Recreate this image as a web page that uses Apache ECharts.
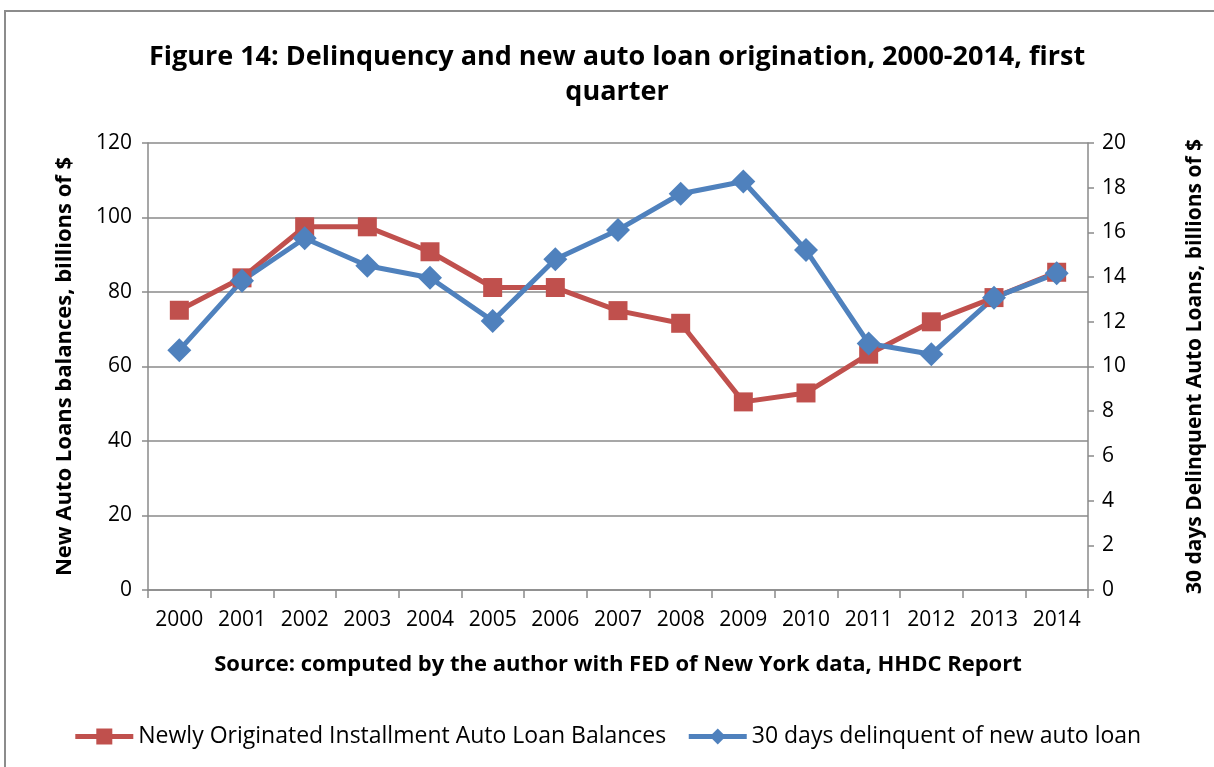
<!DOCTYPE html>
<html><head><meta charset="utf-8">
<script src="https://cdn.jsdelivr.net/npm/echarts@6/dist/echarts.min.js"></script>
<style>
html,body{margin:0;padding:0;background:#fff;}
#frame{position:absolute;left:4px;top:10px;width:1230px;height:800px;border:2px solid #8c8c8c;box-sizing:border-box;}
#c{position:absolute;left:0;top:0;width:1214px;height:767px;}
</style></head>
<body>
<div id="frame"></div>
<div id="c"></div>
<script>
const years = ['2000','2001','2002','2003','2004','2005','2006','2007','2008','2009','2010','2011','2012','2013','2014'];
const newLoans = [75.1, 83.8, 97.5, 97.5, 90.8, 81.2, 81.2, 75.0, 71.6, 50.5, 52.9, 63.3, 72.0, 78.5, 85.3];
const delinquent = [10.73, 13.84, 15.74, 14.51, 13.97, 12.04, 14.80, 16.11, 17.73, 18.28, 15.21, 11.03, 10.55, 13.08, 14.17];
const leftTicks = {min:0, max:120, interval:20};
const rightTicks = {min:0, max:20, interval:2};

const font = '"Open Sans", sans-serif';
const chart = echarts.init(document.getElementById('c'), null, {renderer:'canvas'});
const gray = '#8a8a8a';
chart.setOption({
  animation:false,
  title:{
    text:'Figure 14: Delinquency and new auto loan origination, 2000-2014, first\nquarter',
    left:612, top:35, textAlign:'center',
    textStyle:{fontFamily:font, fontWeight:'bold', fontSize:27, color:'#000', lineHeight:35}
  },
  legend:{
    bottom:14, left:'center', itemWidth:58, itemHeight:20, itemGap:20,
    textStyle:{fontFamily:font, fontSize:23, color:'#000'},
    lineStyle:{width:5},
    data:['Newly Originated Installment Auto Loan Balances','30 days delinquent of new auto loan']
  },
  grid:{left:148, right:122, top:143, bottom:177},
  xAxis:{
    type:'category', data:years, boundaryGap:true,
    name:'Source: computed by the author with FED of New York data, HHDC Report',
    nameLocation:'middle', nameGap:64,
    nameTextStyle:{fontFamily:font, fontWeight:'bold', fontSize:22, color:'#000'},
    axisLine:{lineStyle:{color:gray, width:1.5}},
    axisTick:{show:true, length:8, inside:false, lineStyle:{color:gray, width:1.5}},
    axisLabel:{fontFamily:font, fontSize:21, color:'#000', margin:20}
  },
  yAxis:[{
    type:'value', min:leftTicks.min, max:leftTicks.max, interval:leftTicks.interval, position:'left',
    name:'New Auto Loans balances, billions of $', nameLocation:'middle', nameGap:72, nameRotate:90,
    nameTextStyle:{fontFamily:font, fontWeight:'bold', fontSize:22, color:'#000'},
    axisLine:{show:true, lineStyle:{color:gray, width:1.5}},
    axisTick:{show:true, length:6, lineStyle:{color:gray, width:1.5}},
    axisLabel:{fontFamily:font, fontSize:21, color:'#000', margin:16},
    splitLine:{show:true, lineStyle:{color:gray, width:1.5}}
  },{
    type:'value', min:rightTicks.min, max:rightTicks.max, interval:rightTicks.interval, position:'right',
    name:'30 days Delinquent Auto Loans, billions of $', nameLocation:'middle', nameGap:97, nameRotate:90,
    nameTextStyle:{fontFamily:font, fontWeight:'bold', fontSize:21, color:'#000'},
    axisLine:{show:true, lineStyle:{color:gray, width:1.5}},
    axisTick:{show:true, length:6, lineStyle:{color:gray, width:1.5}},
    axisLabel:{fontFamily:font, fontSize:21, color:'#000', margin:14},
    splitLine:{show:false}
  }],
  series:[{
    name:'Newly Originated Installment Auto Loan Balances', type:'line', yAxisIndex:0, data:newLoans,
    symbol:'rect', symbolSize:19,
    lineStyle:{color:'#C0504D', width:5}, itemStyle:{color:'#C0504D'}
  },{
    name:'30 days delinquent of new auto loan', type:'line', yAxisIndex:1, data:delinquent,
    symbol:'diamond', symbolSize:24,
    lineStyle:{color:'#4F81BD', width:5}, itemStyle:{color:'#4F81BD'}
  }]
});
</script>
</body></html>
